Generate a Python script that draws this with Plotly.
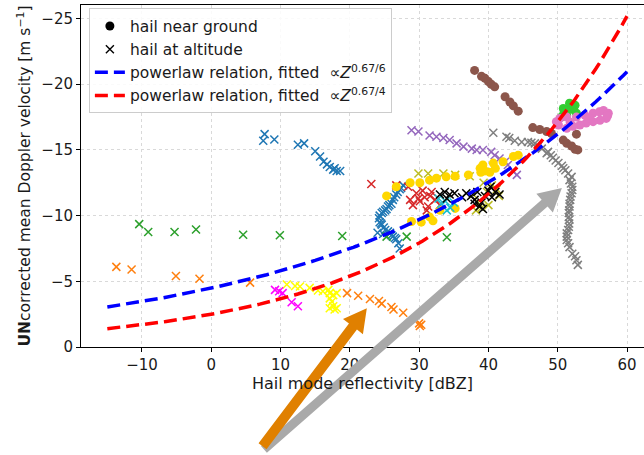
import math
import plotly.graph_objects as go

# ---------------- data: hail mode reflectivity [dBZ] vs mean Doppler velocity [m/s]
blue_x = [7.7, 7.5, 9.1, 12.5, 13.4, 15.0, 15.7, 16.2, 16.7, 17.1, 17.6, 17.8, 18.1, 18.6,
          27.7, 27.4, 27.2, 26.9, 26.7, 26.4, 26.2, 26.0, 25.7, 25.5, 25.3, 25.1, 24.8, 24.6,
          24.3, 24.2, 24.3, 24.5, 24.6, 24.9, 25.1, 25.5, 25.8, 26.0, 26.2, 26.5, 26.7, 27.0,
          27.2, 24.0, 24.8]
blue_y = [-16.2, -15.7, -15.8, -15.4, -15.5, -14.9, -14.5, -14.1, -13.9, -13.7, -13.5, -13.6, -13.4, -13.4,
          -12.3, -12.1, -12.0, -11.8, -11.6, -11.4, -11.2, -10.9, -10.8, -10.7, -10.5, -10.4, -10.3, -10.2,
          -10.0, -9.8, -9.5, -9.4, -9.3, -9.1, -8.9, -8.8, -8.7, -8.5, -8.4, -8.3, -8.2, -7.9,
          -7.5, -8.7, -8.6]

orange_x = [-13.7, -11.5, -5.1, -1.7, 5.6, 19.6, 21.2, 22.9, 24.2, 24.6, 26.0, 26.3, 27.7, 30.0, 30.3, 30.1]
orange_y = [-6.1, -5.9, -5.4, -5.2, -4.9, -4.1, -3.9, -3.65, -3.5, -3.3, -3.05, -2.85, -2.6, -1.8, -1.7, -1.6]

green_x = [-10.4, -9.1, -5.3, -2.2, 4.6, 9.9, 18.9, 25.3, 28.2, 34.0]
green_y = [-9.35, -8.75, -8.75, -8.95, -8.55, -8.5, -8.45, -8.4, -8.4, -8.35]

red_x = [23.1, 26.7, 28.4, 28.7, 29.6, 30.1, 30.8, 31.3, 31.8, 32.3, 31.1, 29.1, 33.0, 30.5, 31.6, 29.9]
red_y = [-12.4, -12.3, -12.2, -11.2, -11.7, -11.1, -11.4, -10.7, -11.8, -11.2, -10.4, -10.8, -10.8, -11.9, -11.5, -11.3]

purple_x = [28.9, 29.9, 31.5, 32.5, 33.5, 34.4, 35.4, 36.4, 37.6, 38.3, 39.2, 40.4, 40.9, 41.6, 42.4,
            42.8, 43.6, 44.1]
purple_y = [-16.5, -16.4, -16.1, -16.0, -15.9, -15.75, -15.5, -15.25, -15.1, -15.0, -15.0, -14.85, -14.6,
            -14.35, -14.1, -13.85, -13.35, -13.1]

gray_x = [40.7, 42.6, 43.0, 43.8, 44.8, 45.7, 46.2, 46.7, 47.2, 47.7, 48.4, 48.6, 49.0, 49.3, 49.7, 50.1,
          50.6, 50.8, 51.1, 51.5, 51.7, 52.0, 51.9, 52.1, 52.1, 52.0, 51.85, 51.8, 51.7, 51.7, 51.65, 51.6,
          51.6, 51.7, 51.65, 51.6, 51.5, 51.3, 51.3, 51.3, 51.5, 51.7, 52.1, 52.5, 52.7, 52.9]
gray_y = [-16.3, -16.0, -15.9, -15.7, -15.6, -15.6, -15.55, -15.5, -15.3, -15.1, -14.75, -14.85, -14.6, -14.4,
          -14.2, -14.0, -13.8, -13.6, -13.45, -13.2, -12.7, -12.95, -12.45, -12.2, -11.95, -11.7, -11.45,
          -11.2, -10.9, -10.7, -10.4, -10.2, -9.9, -9.7, -9.4, -9.15, -8.9, -8.65, -8.4, -8.15, -7.9, -7.6,
          -7.1, -6.9, -6.6, -6.25]

olive_x = [29.9, 31.3, 33.5, 35.2, 37.3, 37.8, 38.5, 39.0, 39.8, 40.5, 41.2, 38.2, 40.0, 41.5, 39.3]
olive_y = [-13.2, -13.2, -13.2, -13.1, -13.0, -11.6, -11.0, -10.6, -11.8, -12.3, -12.0, -10.4, -10.8, -11.5, -12.5]

gold_x = [25.3, 26.7, 28.7, 30.1, 31.5, 32.5, 33.9, 35.2, 37.1, 38.8, 39.2, 40.7, 42.1, 43.6, 44.3,
          39.5, 40.2, 41.0, 38.9, 28.9, 30.3, 31.5, 33.0, 35.2, 32.0]
gold_y = [-11.5, -12.2, -12.5, -12.5, -12.7, -12.85, -12.95, -13.0, -13.1, -13.6, -13.85, -14.0, -14.1, -14.5,
          -14.6, -13.4, -13.3, -13.6, -13.3, -9.55, -9.5, -9.9, -10.4, -10.55, -9.6]

cyan_x = [33.2, 33.8, 34.5, 34.0, 35.0, 32.8]
cyan_y = [-10.9, -11.1, -10.6, -10.4, -11.0, -11.3]

black_x = [33.0, 33.7, 34.4, 35.1, 34.0, 36.2, 36.8, 37.5, 38.0, 38.4, 39.0, 38.7, 39.5, 40.0, 40.5, 41.0,
           41.6, 39.2, 38.0, 40.3]
black_y = [-11.6, -11.8, -11.6, -11.7, -11.3, -11.4, -11.7, -11.5, -11.2, -11.8, -11.0, -10.7, -11.5, -11.9,
           -11.4, -11.8, -11.6, -10.5, -10.9, -12.2]

yellow_x = [10.9, 12.1, 12.8, 14.2, 15.4, 16.1, 16.9, 17.1, 17.6, 18.1, 17.1, 17.4, 17.6, 17.1, 18.1, 17.8]
yellow_y = [-4.75, -4.65, -4.6, -4.5, -4.3, -4.25, -4.35, -4.1, -3.95, -4.1, -3.7, -3.45, -3.1, -2.95, -2.95, -2.85]

magenta_x = [9.2, 9.8, 10.3, 11.6, 12.5]
magenta_y = [-4.35, -4.25, -4.1, -3.4, -3.1]

brown_x = [38.0, 39.0, 39.5, 40.0, 40.4, 40.9, 42.4, 43.1, 43.6, 44.3,
           46.4, 47.4, 48.4, 49.1, 52.7, 50.8, 51.3, 52.0, 52.5, 52.9]
brown_y = [-21.05, -20.6, -20.45, -20.2, -20.0, -19.8, -19.05, -18.65, -18.35, -17.95,
           -16.7, -16.55, -16.4, -16.25, -16.2, -15.75, -15.5, -15.3, -15.05, -15.0]

lime_x = [50.8, 51.7, 52.5, 51.3, 50.5, 52.7, 51.2, 52.0, 50.9]
lime_y = [-18.15, -18.55, -18.4, -17.65, -17.5, -17.8, -18.0, -18.1, -17.8]

pink_x = [50.3, 51.3, 52.7, 53.9, 55.1, 56.0, 56.6, 57.3, 57.0, 56.1, 55.1, 54.1, 53.2, 52.2, 51.3, 50.1,
          49.8, 51.8, 54.6, 57.2]
pink_y = [-17.4, -17.5, -17.5, -17.65, -17.8, -17.9, -18.0, -17.8, -17.4, -17.25, -17.15, -17.05, -16.9,
          -16.8, -16.65, -16.9, -17.15, -17.1, -17.4, -17.6]

# power-law fits v = -a * Z**b with Z = 10**(dBZ/10)
fit_dbz_min, fit_dbz_max = -15.0, 60.0
fit6_coef, fit6_exp = 4.48, 0.67 / 6
fit4_coef, fit4_exp = 2.49, 0.67 / 4

# axes
x_range = [-18.8, 62.45]
y_range = [0.0, -26.03]
x_ticks = [-10, 0, 10, 20, 30, 40, 50, 60]
y_ticks = [-25, -20, -15, -10, -5, 0]

# ---------------- figure
W, H = 644, 455
M_L, M_R, M_T, M_B = 81, 0, 5, 108
PW, PH = W - M_L - M_R, H - M_T - M_B

fig = go.Figure()


def add_x(xs, ys, color):
    fig.add_trace(go.Scatter(
        x=xs, y=ys, mode="markers", showlegend=False, hoverinfo="skip",
        marker=dict(symbol="x-thin", size=8, color=color, line=dict(width=1.5, color=color))))


def add_dot(xs, ys, color):
    fig.add_trace(go.Scatter(
        x=xs, y=ys, mode="markers", showlegend=False, hoverinfo="skip",
        marker=dict(symbol="circle", size=9, color=color, line=dict(width=0))))


add_x(blue_x, blue_y, "#1f77b4")
add_x(orange_x, orange_y, "#ff7f0e")
add_x(green_x, green_y, "#2ca02c")
add_x(red_x, red_y, "#d62728")
add_x(purple_x, purple_y, "#9467bd")
add_x(gray_x, gray_y, "#7f7f7f")
add_x(olive_x, olive_y, "#bcbd22")
add_dot(gold_x, gold_y, "#ffd700")
add_x(cyan_x, cyan_y, "#17becf")
add_x(black_x, black_y, "#000000")
add_x(yellow_x, yellow_y, "#ffff00")
add_x(magenta_x, magenta_y, "#ff00ff")
add_dot(brown_x, brown_y, "#8c564b")
add_dot(lime_x, lime_y, "#32cd32")
add_dot(pink_x, pink_y, "#e377c2")

# legend-only marker entries
fig.add_trace(go.Scatter(x=[None], y=[None], mode="markers", name="hail near ground",
                         marker=dict(symbol="circle", size=9, color="black")))
fig.add_trace(go.Scatter(x=[None], y=[None], mode="markers", name="hail at altitude",
                         marker=dict(symbol="x-thin", size=8, color="black",
                                     line=dict(width=1.4, color="black"))))

# fitted power-law curves
n = 151
fit_x = [fit_dbz_min + (fit_dbz_max - fit_dbz_min) * i / (n - 1) for i in range(n)]
fit6_y = [-fit6_coef * (10 ** (d / 10)) ** fit6_exp for d in fit_x]
fit4_y = [-fit4_coef * (10 ** (d / 10)) ** fit4_exp for d in fit_x]
fig.add_trace(go.Scatter(x=fit_x, y=fit6_y, mode="lines", hoverinfo="skip",
                         name="powerlaw relation, fitted  \u221d<i>Z</i><sup>0.67/6</sup>",
                         line=dict(color="#0000ff", width=3.5, dash="13px,6px")))
fig.add_trace(go.Scatter(x=fit_x, y=fit4_y, mode="lines", hoverinfo="skip",
                         name="powerlaw relation, fitted  \u221d<i>Z</i><sup>0.67/4</sup>",
                         line=dict(color="#ff0000", width=3.5, dash="13px,6px")))


# ---------------- arrows (drawn as filled polygons in paper coordinates)
def data_to_px(xd, yd):
    return ((xd - x_range[0]) / (x_range[1] - x_range[0]) * PW,
            (yd - y_range[0]) / (y_range[1] - y_range[0]) * PH)


def arrow_path(tail, tip, shaft_w, head_w, head_l):
    tx, ty = data_to_px(*tail)
    hx, hy = data_to_px(*tip)
    dx, dy = hx - tx, hy - ty
    L = math.hypot(dx, dy)
    ux, uy = dx / L, dy / L
    nx, ny = -uy, ux
    bx, by = hx - ux * head_l, hy - uy * head_l
    pts = [
        (tx + nx * shaft_w / 2, ty + ny * shaft_w / 2),
        (bx + nx * shaft_w / 2, by + ny * shaft_w / 2),
        (bx + nx * head_w / 2, by + ny * head_w / 2),
        (hx, hy),
        (bx - nx * head_w / 2, by - ny * head_w / 2),
        (bx - nx * shaft_w / 2, by - ny * shaft_w / 2),
        (tx - nx * shaft_w / 2, ty - ny * shaft_w / 2),
    ]
    return "M " + " L ".join(f"{px / PW:.5f},{py / PH:.5f}" for px, py in pts) + " Z"


arrow_gray = dict(tail=(7.6, 7.8), tip=(50.6, -12.1), shaft_w=9, head_w=25, head_l=23, color="#a9a9a9")
arrow_orange = dict(tail=(7.4, 7.55), tip=(22.45, -2.95), shaft_w=10, head_w=25, head_l=23, color="#e08000")

shapes = []
for a in (arrow_gray, arrow_orange):
    shapes.append(dict(type="path", xref="paper", yref="paper", layer="above",
                       path=arrow_path(a["tail"], a["tip"], a["shaft_w"], a["head_w"], a["head_l"]),
                       fillcolor=a["color"], line=dict(width=0)))

font = "DejaVu Sans"
TXT = "#1a1a1a"
fig.update_layout(
    width=W, height=H,
    margin=dict(l=M_L, r=M_R, t=M_T, b=M_B, pad=0),
    paper_bgcolor="white", plot_bgcolor="white",
    font=dict(family=font, size=15, color=TXT),
    shapes=shapes,
    showlegend=True,
    legend=dict(x=0.014, y=0.99, xanchor="left", yanchor="top",
                bgcolor="rgba(255,255,255,0.85)", bordercolor="#cccccc", borderwidth=1,
                font=dict(family=font, size=15.5, color=TXT),
                tracegroupgap=0, itemwidth=30),
    xaxis=dict(range=x_range, tickvals=x_ticks, showgrid=True, gridcolor="#d9d9d9", griddash="dot",
               gridwidth=1, zeroline=False, showline=True, linecolor="black", linewidth=1, mirror=True,
               ticks="outside", ticklen=4, tickcolor="black",
               tickfont=dict(family=font, size=15, color=TXT),
               title=dict(text="Hail mode reflectivity [dBZ]", font=dict(family=font, size=16, color=TXT),
                          standoff=4)),
    yaxis=dict(range=y_range, tickvals=y_ticks, showgrid=True, gridcolor="#d9d9d9", griddash="dot",
               gridwidth=1, zeroline=False, showline=True, linecolor="black", linewidth=1, mirror=False,
               ticks="outside", ticklen=4, tickcolor="black",
               tickfont=dict(family=font, size=15, color=TXT),
               title=dict(text="<b>UN</b>corrected mean Doppler velocity [m s<sup>\u22121</sup>]",
                          font=dict(family=font, size=15.5, color=TXT), standoff=6)),
)

fig.write_html("out.html")
